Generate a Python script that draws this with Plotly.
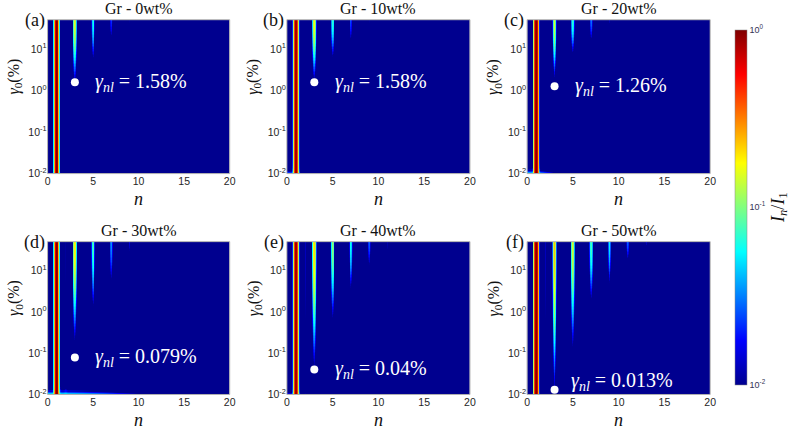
import numpy as np
import plotly.graph_objects as go

# ---------------- data ----------------
panel_titles = ["Gr - 0wt%", "Gr - 10wt%", "Gr - 20wt%", "Gr - 30wt%", "Gr - 40wt%", "Gr - 50wt%"]
panel_letters = ["(a)", "(b)", "(c)", "(d)", "(e)", "(f)"]
gamma_nl = [1.58, 1.58, 1.26, 0.079, 0.04, 0.013]          # % (white dots, at n = 3)
gamma_nl_text = ["1.58%", "1.58%", "1.26%", "0.079%", "0.04%", "0.013%"]

harmonics = [1, 2, 3, 5, 7, 9, 11, 13]
# relative intensity I_n/I_1 at the largest strain (top of each panel)
peak_a = [1.0, 0.0, 0.16, 0.060, 0.022, 0.011, 0.0, 0.0]
peak_b = [1.0, 0.0, 0.18, 0.070, 0.025, 0.011, 0.0, 0.0]
peak_c = [1.0, 0.0, 0.16, 0.070, 0.030, 0.013, 0.0, 0.0]
peak_d = [1.0, 0.011, 0.20, 0.080, 0.035, 0.015, 0.0, 0.0]
peak_e = [1.0, 0.013, 0.22, 0.110, 0.060, 0.028, 0.012, 0.0]
peak_f = [1.0, 0.013, 0.25, 0.150, 0.080, 0.055, 0.028, 0.014]
# strain (%) below which each harmonic fades out (None = always present)
onset_a = [None, 1.0, 1.58, 6.0, 20.0, 40.0, 40.0, 40.0]
onset_b = [None, 1.0, 1.8, 6.5, 17.0, 40.0, 40.0, 40.0]
onset_c = [None, 1.0, 2.0, 8.0, 17.0, 40.0, 40.0, 40.0]
onset_d = [None, 3.0, 0.2, 1.4, 6.0, 30.0, 40.0, 40.0]
onset_e = [None, 0.5, 0.045, 0.7, 3.8, 14.0, 30.0, 40.0]
onset_f = [None, 0.5, 0.012, 0.14, 2.0, 5.0, 19.0, 40.0]
peaks = [peak_a, peak_b, peak_c, peak_d, peak_e, peak_f]
onsets = [onset_a, onset_b, onset_c, onset_d, onset_e, onset_f]
# low-strain noise near gamma0 = 0.01 %
noise_level = [0.015, 0.03, 0.05, 0.06, 0.02, 0.012]
noise_span = [1.5, 1.5, 2.5, 8.0, 2.0, 1.0]

x_ticks = [0, 5, 10, 15, 20]
y_ticks = [0.01, 0.1, 1, 10]
y_ticktext = ["10<sup>-2</sup>", "10<sup>-1</sup>", "10<sup>0</sup>", "10<sup>1</sup>"]
cb_ticks = [-2, -1, 0]
cb_ticktext = ["10<sup>-2</sup>", "10<sup>-1</sup>", "10<sup>0</sup>"]

# ---------------- grid ----------------
LG_TOP, LG_BOT = 1.7, -2.0
DN = 0.05
NX = 400
NY = 100
DLG = (LG_TOP - LG_BOT) / NY
n_centers = DN / 2 + DN * np.arange(NX)
lg_centers = LG_BOT + DLG / 2 + DLG * np.arange(NY)
X, LG = np.meshgrid(n_centers, lg_centers)
W1 = 0.19   # peak half-width (fundamental)
WH = 0.15   # peak half-width (higher harmonics)


def panel_field(pk, on, nl, ns):
    I = np.zeros_like(X)
    for k, a, o in zip(harmonics, pk, on):
        if a <= 0:
            continue
        if o is None:
            A = a * np.ones_like(LG)
        else:
            la = np.log10(a)
            s = (LG_TOP - LG) / (LG_TOP - np.log10(o))
            A = 10 ** (la - s ** 2 * (la + 2.0))
        w = W1 if k == 1 else WH
        I += A * np.exp(-((X - k) / w) ** 2)
    I += nl * np.exp(-(X / ns) ** 2) * 10 ** (-(LG - LG_BOT) / 0.15)
    return np.round(np.log10(np.clip(I, 5e-3, 1.0)), 3)


NAVY = "rgb(0,0,143)"
jet = [[0.0, NAVY], [0.125, "rgb(0,0,255)"], [0.375, "rgb(0,255,255)"],
       [0.625, "rgb(255,255,0)"], [0.875, "rgb(255,0,0)"], [1.0, "rgb(128,0,0)"]]

W_PX, H_PX = 800, 436
xdom_px = [(46, 234), (293, 482), (541, 730)]
ydom_px = [(20, 176), (245, 400)]

fig = go.Figure()
tick_font = dict(family="Liberation Sans, Arial, sans-serif", size=10.5, color="#262626")
serif = "Liberation Serif, Times New Roman, serif"
annotations = []
shapes = []
for i in range(6):
    r, c = divmod(i, 3)
    xa = "x" if i == 0 else f"x{i+1}"
    ya = "y" if i == 0 else f"y{i+1}"
    z = panel_field(peaks[i], onsets[i], noise_level[i], noise_span[i])
    fig.add_trace(go.Heatmap(x0=DN / 2, dx=DN, y0=LG_BOT + DLG / 2, dy=DLG, z=z,
                             colorscale=jet, zmin=-2, zmax=0, zsmooth=False,
                             showscale=(i == 0), xaxis=xa, yaxis=ya,
                             colorbar=dict(x=745 / W_PX, xanchor="left", y=1 - 210 / H_PX,
                                           yanchor="middle", len=380 / H_PX,
                                           lenmode="fraction", thickness=12,
                                           thicknessmode="pixels", outlinewidth=0.5,
                                           outlinecolor="#888888", tickvals=cb_ticks,
                                           ticktext=cb_ticktext, ticks="",
                                           tickfont=dict(family="Liberation Sans, Arial, sans-serif",
                                                         size=9, color="#333355"),
                                           title=dict(text="<i>I<sub>n</sub></i>/<i>I</i><sub>1</sub>",
                                                      side="right",
                                                      font=dict(family=serif, size=18,
                                                                color="#111111")))))
    fig.add_trace(go.Scatter(x=[3], y=[np.log10(gamma_nl[i])], mode="markers",
                             xaxis=xa, yaxis=ya,
                             marker=dict(color="white", size=8), showlegend=False))
    x0, x1 = xdom_px[c]
    y0, y1 = ydom_px[r]
    xd = [x0 / W_PX, x1 / W_PX]
    yd = [1 - y1 / H_PX, 1 - y0 / H_PX]
    fig.layout[f"xaxis{'' if i == 0 else i+1}"] = dict(
        domain=xd, range=[0, 20], anchor=ya, tickvals=x_ticks, tickfont=tick_font,
        showgrid=False, zeroline=False, showline=False, ticks="")
    fig.layout[f"yaxis{'' if i == 0 else i+1}"] = dict(
        domain=yd, range=[LG_BOT, LG_TOP], anchor=xa,
        tickvals=list(np.log10(y_ticks)),
        ticktext=y_ticktext, tickfont=tick_font, showgrid=False, zeroline=False,
        showline=False, ticks="")
    shapes.append(dict(type="rect", xref="paper", yref="paper", x0=xd[0], x1=xd[1],
                       y0=yd[0], y1=yd[1], line=dict(color="#b0b0b0", width=1),
                       fillcolor="rgba(0,0,0,0)", layer="above"))
    # annotation gamma_nl
    ty = gamma_nl[i] * (1.6 if i == 5 else 1.0)
    tx = 4.6 if i == 5 else 5.0
    annotations.append(dict(x=tx, y=np.log10(ty), xref=xa, yref=ya, xanchor="left",
                            yanchor="middle", showarrow=False,
                            text=f"<i>γ<sub>nl</sub></i> = {gamma_nl_text[i]}",
                            font=dict(family=serif, size=20, color="white")))
    # title
    annotations.append(dict(x=(x0 + x1) / 2 / W_PX, y=1 - (y0 - 11) / H_PX, xref="paper",
                            yref="paper", xanchor="center", yanchor="middle", showarrow=False,
                            text=panel_titles[i],
                            font=dict(family=serif, size=16, color="#111111")))
    # panel letter
    annotations.append(dict(x=(x0 - 1) / W_PX, y=1 - (y0 + 1) / H_PX, xref="paper",
                            yref="paper", xanchor="right", yanchor="middle", showarrow=False,
                            text=panel_letters[i],
                            font=dict(family=serif, size=18, color="#111111")))
    # x label
    annotations.append(dict(x=(x0 + x1) / 2 / W_PX, y=1 - (y1 + 26) / H_PX, xref="paper",
                            yref="paper", xanchor="center", yanchor="middle", showarrow=False,
                            text="<i>n</i>",
                            font=dict(family=serif, size=18, color="#111111")))
    # y label
    annotations.append(dict(x=(x0 - 34) / W_PX, y=1 - ((y0 + y1) / 2 - 20) / H_PX,
                            xref="paper", yref="paper", xanchor="center", yanchor="middle",
                            showarrow=False, textangle=-90,
                            text="<i>γ</i><sub>0</sub>(%)",
                            font=dict(family=serif, size=16, color="#111111")))

fig.update_layout(
    width=W_PX, height=H_PX, margin=dict(l=0, r=0, t=0, b=0),
    paper_bgcolor="white", plot_bgcolor="white", showlegend=False,
    hovermode=False,
    annotations=annotations, shapes=shapes,
)

fig.write_html("out.html", config={"displayModeBar": False},
               post_script="document.body.style.margin='0px';"
                           "document.body.style.overflow='hidden';")
